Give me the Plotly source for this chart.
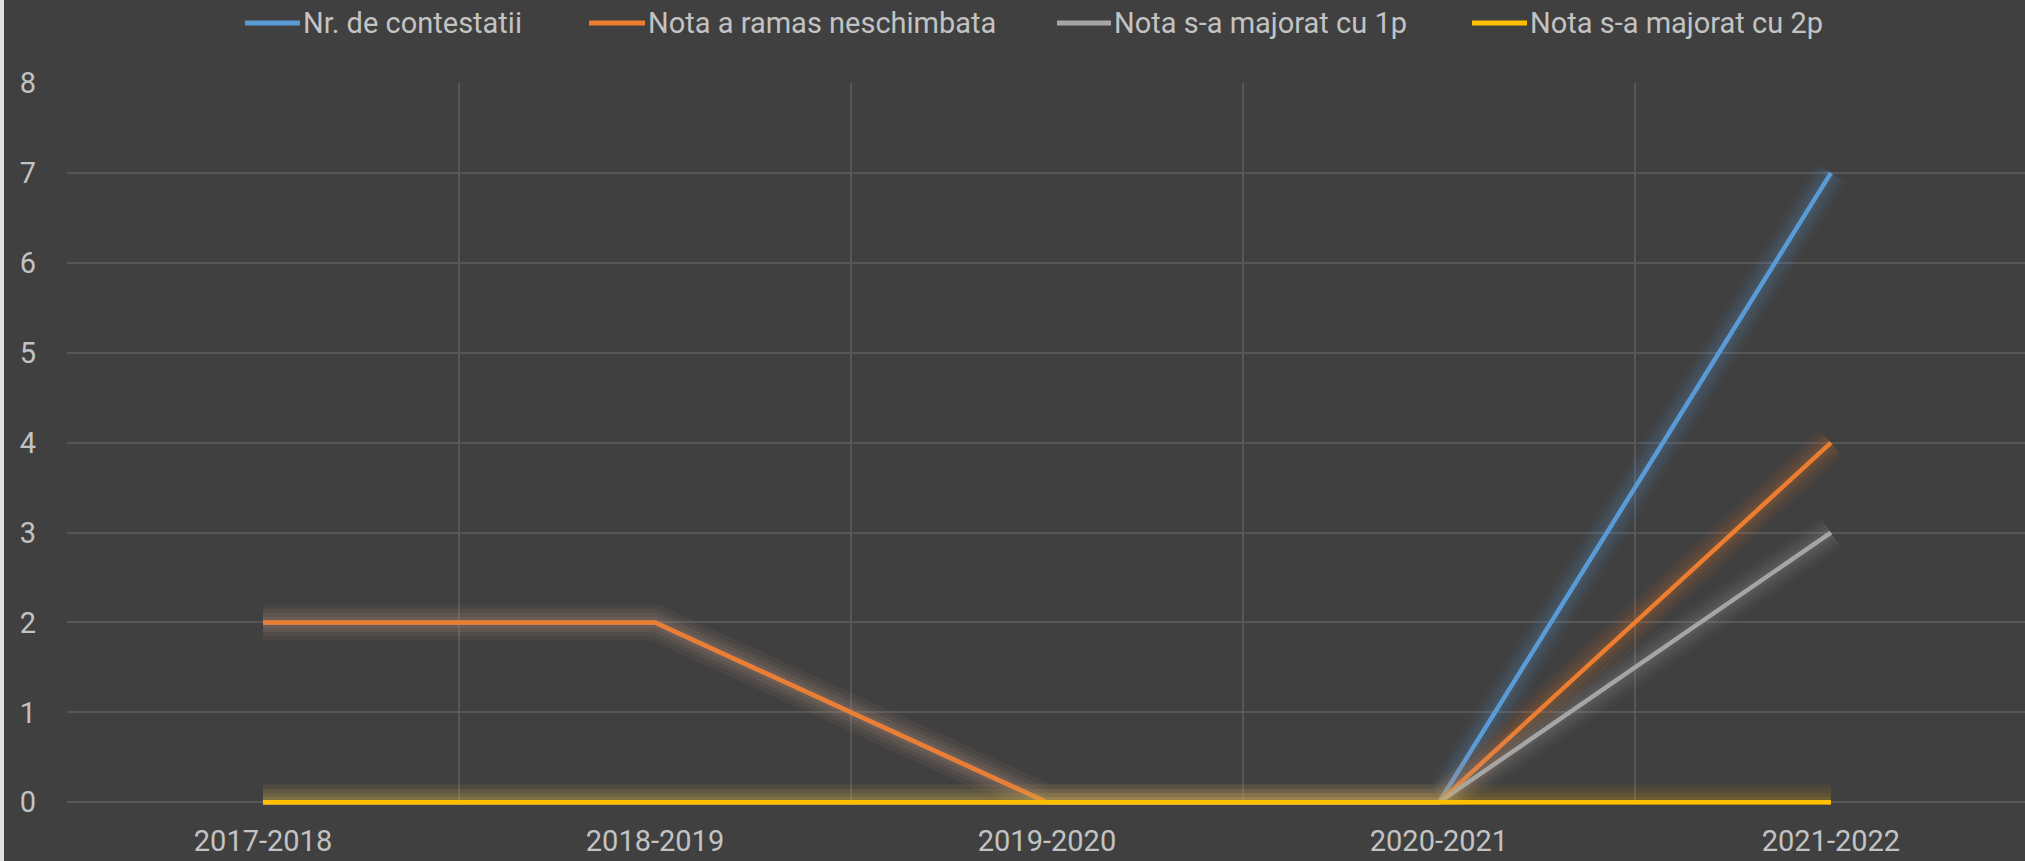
import plotly.graph_objects as go

# ---- data ----
YEARS = ["2017-2018", "2018-2019", "2019-2020", "2020-2021", "2021-2022"]
SERIES = ["Nr. de contestatii", "Nota a ramas neschimbata",
          "Nota s-a majorat cu 1p", "Nota s-a majorat cu 2p"]
nr_contestatii = [2, 2, 0, 0, 7]
nota_neschimbata = [2, 2, 0, 0, 4]
nota_majorat_1p = [0, 0, 0, 0, 3]
nota_majorat_2p = [0, 0, 0, 0, 0]
VALUES = [nr_contestatii, nota_neschimbata, nota_majorat_1p, nota_majorat_2p]
Y_TICKS = [0, 1, 2, 3, 4, 5, 6, 7, 8]

# ---- style ----
COLORS = ["#5B9BD5", "#ED7D31", "#A5A5A5", "#FFC000"]
GLOW_RGB = [(91, 155, 213), (237, 125, 49), (165, 165, 165), (255, 192, 0)]
BG = "#404040"
GRID = "#575757"
TEXT = "#c3c3c3"
FONT = "Roboto"
FS = 29

W, H = 2025, 861
ML, MR, MT, MB = 67, 0, 83, 56
PW, PH = W - ML - MR, H - MT - MB


def px2x(px):
    return (px - ML) / PW


def px2y(py):
    return (H - MB - py) / PH


fig = go.Figure()

for name, vals, col, rgb in zip(SERIES, VALUES, COLORS, GLOW_RGB):
    # soft glow: stacked translucent wide strokes
    for w, a in [(36, 0.05), (27, 0.06), (19, 0.07), (11, 0.09)]:
        fig.add_trace(go.Scatter(
            x=YEARS, y=vals, mode="lines",
            line=dict(color=f"rgba({rgb[0]},{rgb[1]},{rgb[2]},{a})", width=w),
            hoverinfo="skip", showlegend=False))
    fig.add_trace(go.Scatter(
        x=YEARS, y=vals, mode="lines", name=name,
        line=dict(color=col, width=4.5),
        showlegend=False))

# manual legend (line swatch + label) at the top
LEG_SWATCH = [(245, 300), (589, 645), (1057, 1111), (1472, 1527)]
LEG_Y = 23
for (x0, x1), name, col in zip(LEG_SWATCH, SERIES, COLORS):
    fig.add_shape(type="line", xref="paper", yref="paper",
                  x0=px2x(x0), x1=px2x(x1), y0=px2y(LEG_Y), y1=px2y(LEG_Y),
                  line=dict(color=col, width=5))
    fig.add_annotation(xref="paper", yref="paper", x=px2x(x1 + 1), y=px2y(LEG_Y),
                       xanchor="left", yanchor="middle", text=name,
                       showarrow=False, font=dict(family=FONT, size=FS, color=TEXT))

# thin light strip at the far left edge
fig.add_shape(type="rect", xref="paper", yref="paper",
              x0=px2x(0), x1=px2x(4), y0=px2y(H), y1=px2y(0),
              line=dict(width=0), fillcolor="#e6e1dc", layer="above")

fig.update_layout(
    width=W, height=H, autosize=False,
    paper_bgcolor=BG, plot_bgcolor=BG,
    margin=dict(l=ML, r=MR, t=MT, b=MB, pad=0),
    showlegend=False,
    font=dict(family=FONT, size=FS, color=TEXT),
    xaxis=dict(type="category", categoryorder="array", categoryarray=YEARS,
               range=[-0.5, 4.495], tickson="boundaries", ticks="",
               showgrid=True, gridcolor=GRID, gridwidth=1.5,
               zeroline=False, showline=False,
               tickfont=dict(family=FONT, size=FS, color=TEXT),
               ticklabelstandoff=16),
    yaxis=dict(range=[-0.03, 8], tickmode="array", tickvals=Y_TICKS,
               ticktext=[str(v) for v in Y_TICKS], ticks="",
               showgrid=True, gridcolor=GRID, gridwidth=1.5,
               zeroline=False, showline=False,
               tickfont=dict(family=FONT, size=FS, color=TEXT),
               ticklabelstandoff=30),
)

fig.write_html(
    "out.html",
    config={"displayModeBar": False},
    post_script="document.body.style.margin='0';document.body.style.background='#404040';",
)
